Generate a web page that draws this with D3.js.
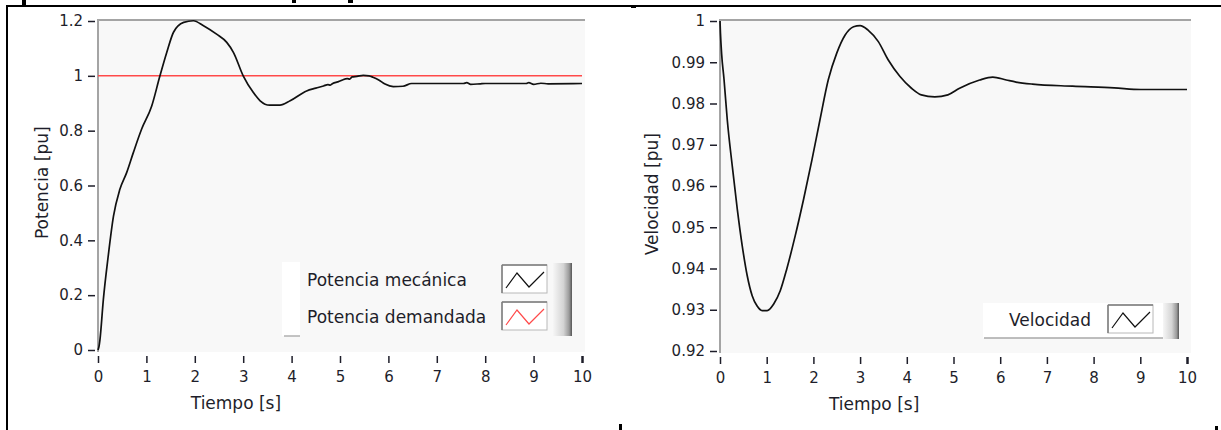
<!DOCTYPE html>
<html>
<head>
<meta charset="utf-8">
<script src="https://cdn.jsdelivr.net/npm/d3@7"></script>
<style>
  body { margin: 0; background: #fff; }
</style>
</head>
<body>
<script>
var ancho = 1221;
var alto = 430;

// valores (tiempo en s, potencia y velocidad en pu)
var tiempoPotencia = [0, 0.02, 0.04, 0.11, 0.21, 0.32, 0.45, 0.59, 0.73, 0.90, 1.11, 1.28, 1.42, 1.56, 1.77, 1.97,
  2.18, 2.45, 2.66, 2.80, 3.0, 3.21, 3.35, 3.55, 3.76, 3.97, 4.31, 4.5, 4.66, 4.75, 4.8, 4.85, 4.95, 5.0, 5.05,
  5.15, 5.2, 5.25, 5.35, 5.48, 5.6, 5.68, 5.8, 5.93, 6.1, 6.3, 6.48, 7.55, 7.62, 7.7, 7.9, 8.0, 8.85, 8.9, 9.0,
  9.15, 9.3, 10];
var potenciaMecanica = [0, 0.012, 0.037, 0.183, 0.341, 0.488, 0.585, 0.646, 0.72, 0.805, 0.89, 1.0, 1.085, 1.159,
  1.195, 1.201, 1.183, 1.152, 1.122, 1.085, 1.0, 0.939, 0.909, 0.893, 0.893, 0.909, 0.945, 0.955, 0.963, 0.968,
  0.966, 0.972, 0.978, 0.981, 0.985, 0.99, 0.988, 0.996, 0.998, 1.002, 1.0, 0.995, 0.985, 0.97, 0.961, 0.962,
  0.972, 0.972, 0.975, 0.969, 0.971, 0.972, 0.972, 0.975, 0.969, 0.973, 0.971, 0.972];
var tiempoDemanda = [0, 10];
var potenciaDemandada = [1, 1];

var tiempoVelocidad = [0, 0.01, 0.035, 0.085, 0.156, 0.263, 0.37, 0.476, 0.582, 0.689, 0.795, 0.902, 1.01, 1.15,
  1.29, 1.43, 1.61, 1.79, 1.97, 2.14, 2.32, 2.50, 2.68, 2.86, 3.0, 3.17, 3.39, 3.60, 3.85, 4.10, 4.31, 4.60, 4.88,
  5.13, 5.56, 5.84, 6.13, 6.34, 6.69, 7.55, 8.44, 9.01, 10];
var velocidad = [1.0, 0.997, 0.992, 0.986, 0.976, 0.9648, 0.9544, 0.9455, 0.9383, 0.9334, 0.9309, 0.9298, 0.9298,
  0.9314, 0.9346, 0.9399, 0.9479, 0.9568, 0.9664, 0.976, 0.9858, 0.9922, 0.9966, 0.9986, 0.9989, 0.9978, 0.995,
  0.9906, 0.9866, 0.9837, 0.9821, 0.9816, 0.9821, 0.9837, 0.9857, 0.9864, 0.9857, 0.9852, 0.9847, 0.9842, 0.9838,
  0.9834, 0.9834];

var ticksTiempo = [0, 1, 2, 3, 4, 5, 6, 7, 8, 9, 10];
var ticksPotencia = [0, 0.2, 0.4, 0.6, 0.8, 1, 1.2];
var ticksVelocidad = [0.92, 0.93, 0.94, 0.95, 0.96, 0.97, 0.98, 0.99, 1];

var nombresPotencia = ["Potencia mecánica", "Potencia demandada"];
var coloresPotencia = ["#111111", "#ff4a4a"];
var nombresVelocidad = ["Velocidad"];

var fuente = "DejaVu Sans, Verdana, sans-serif";
var colorTexto = "#1e1e2a";

var svg = d3.select("body").append("svg").attr("width", ancho).attr("height", alto);

// degradado de la barra gris de la leyenda
var grad = svg.append("defs").append("linearGradient").attr("id", "barra");
grad.append("stop").attr("offset", "0%").attr("stop-color", "#f6f6f6");
grad.append("stop").attr("offset", "55%").attr("stop-color", "#d4d4d4");
grad.append("stop").attr("offset", "85%").attr("stop-color", "#9a9a9a");
grad.append("stop").attr("offset", "100%").attr("stop-color", "#555");

var serie = function(ts, vs) {
  return ts.map(function(t, i) { return {t: t, v: vs[i]}; });
};

var dibujarPanel = function(p) {
  var x = d3.scaleLinear().domain([0, 10]).range([p.x0, p.x1]);
  var y = d3.scaleLinear().domain(p.dominio).range([p.y0, p.y1]);

  // fondo del area de trazado
  svg.append("rect")
    .attr("x", p.x0).attr("y", p.y1 - 1)
    .attr("width", p.x1 - p.x0 + p.extra).attr("height", p.y0 - p.y1 + 3)
    .attr("fill", "#f8f8f8");
  // bordes gris arriba y a la izquierda
  svg.append("path")
    .attr("d", "M" + p.x0 + "," + (p.y0 + 2) + "V" + (p.y1 - 1) + "H" + (p.x1 + p.extra))
    .attr("fill", "none").attr("stroke", "#a4a4a4").attr("stroke-width", 2);

  // eje y
  var ejeY = svg.append("g")
    .attr("transform", "translate(" + (p.x0 - 3) + ",0)")
    .call(d3.axisLeft(y).tickValues(p.ticks).tickSize(7).tickPadding(5).tickFormat(d3.format("~g")));
  ejeY.select(".domain").remove();
  ejeY.attr("font-family", fuente).attr("font-size", 15).style("color", colorTexto);
  ejeY.selectAll("line").attr("stroke-width", 1.5);

  // eje x
  var ejeX = svg.append("g")
    .attr("transform", "translate(0," + (p.y0 + 6) + ")")
    .call(d3.axisBottom(x).tickValues(ticksTiempo).tickSize(7).tickPadding(8));
  ejeX.select(".domain").remove();
  ejeX.attr("font-family", fuente).attr("font-size", 15).style("color", colorTexto);
  ejeX.selectAll("line").attr("stroke-width", 1.5);
  ejeX.selectAll(".tick").filter(function(d) { return d === 10; }).select("line").attr("stroke-width", 2.5);

  // titulos de ejes
  svg.append("text")
    .attr("x", x(p.tituloX)).attr("y", p.y0 + 59)
    .attr("text-anchor", "middle").attr("font-family", fuente).attr("font-size", 17)
    .attr("fill", colorTexto).text("Tiempo [s]");
  svg.append("text")
    .attr("transform", "translate(" + p.tituloYx + "," + y(p.tituloYv) + ") rotate(-90)")
    .attr("text-anchor", "middle").attr("font-family", fuente).attr("font-size", 17)
    .attr("fill", colorTexto).text(p.tituloY);

  // curvas
  var linea = d3.line()
    .x(function(d) { return x(d.t); })
    .y(function(d) { return y(d.v); })
    .curve(p.curva);
  p.series.forEach(function(s) {
    svg.append("path").datum(s.datos)
      .attr("d", linea)
      .attr("fill", "none").attr("stroke", s.color).attr("stroke-width", s.grosor);
  });

  return {x: x, y: y};
};

// muestra de linea de la leyenda
var muestra = function(mx, my, color) {
  svg.append("rect").attr("x", mx).attr("y", my).attr("width", 45).attr("height", 28)
    .attr("fill", "#fff").attr("stroke", "#b8b8b8");
  svg.append("path").attr("d", "M" + mx + "," + my + "h45M" + mx + "," + my + "v28")
    .attr("stroke", "#7c7c7c").attr("stroke-width", 1.5);
  svg.append("path")
    .attr("d", "M" + (mx + 4) + "," + (my + 23) + "L" + (mx + 15) + "," + (my + 8) +
      "L" + (mx + 27) + "," + (my + 22) + "L" + (mx + 42) + "," + (my + 7))
    .attr("fill", "none").attr("stroke", color).attr("stroke-width", 1.2);
};

// ---- panel izquierdo: potencia ----
dibujarPanel({
  x0: 98, x1: 582, y0: 350, y1: 21, extra: 3,
  dominio: [0, 1.2], ticks: ticksPotencia,
  tituloX: 2.85, tituloY: "Potencia  [pu]", tituloYx: 48, tituloYv: 0.61,
  curva: d3.curveMonotoneX,
  series: [
    {datos: serie(tiempoDemanda, potenciaDemandada), color: coloresPotencia[1], grosor: 1.5},
    {datos: serie(tiempoPotencia, potenciaMecanica), color: coloresPotencia[0], grosor: 1.7}
  ]
});

// leyenda izquierda
svg.append("rect").attr("x", 282).attr("y", 262).attr("width", 18).attr("height", 74).attr("fill", "#fff");
svg.append("line").attr("x1", 284).attr("x2", 300).attr("y1", 336).attr("y2", 336)
  .attr("stroke", "#b0b0b0").attr("stroke-width", 1.5);
nombresPotencia.forEach(function(n, i) {
  svg.append("text").attr("x", 307).attr("y", 286 + i * 37)
    .attr("font-family", fuente).attr("font-size", 17).attr("fill", colorTexto).text(n);
  muestra(502, 265 + i * 37, coloresPotencia[i]);
});
svg.append("rect").attr("x", 553).attr("y", 263).attr("width", 19).attr("height", 73).attr("fill", "url(#barra)");

// ---- panel derecho: velocidad ----
dibujarPanel({
  x0: 720, x1: 1187, y0: 351, y1: 21, extra: 4,
  dominio: [0.92, 1], ticks: ticksVelocidad,
  tituloX: 3.3, tituloY: "Velocidad [pu]", tituloYx: 658, tituloYv: 0.958,
  curva: d3.curveMonotoneX,
  series: [
    {datos: serie(tiempoVelocidad, velocidad), color: "#111111", grosor: 1.7}
  ]
});

// leyenda derecha
svg.append("rect").attr("x", 983).attr("y", 303).attr("width", 182).attr("height", 35).attr("fill", "#fff");
svg.append("line").attr("x1", 984).attr("x2", 1165).attr("y1", 338).attr("y2", 338)
  .attr("stroke", "#a8a8a8").attr("stroke-width", 1.5);
nombresVelocidad.forEach(function(n) {
  svg.append("text").attr("x", 1009).attr("y", 326)
    .attr("font-family", fuente).attr("font-size", 17).attr("fill", colorTexto).text(n);
  muestra(1108, 305, "#111111");
});
svg.append("rect").attr("x", 1163).attr("y", 303).attr("width", 16).attr("height", 36).attr("fill", "url(#barra)");

// marco negro exterior
svg.append("path").attr("d", "M7,430V6H1221").attr("fill", "none").attr("stroke", "#000").attr("stroke-width", 2);
svg.append("rect").attr("x", 22).attr("y", 0).attr("width", 4).attr("height", 6).attr("fill", "#000");
svg.append("rect").attr("x", 292).attr("y", 0).attr("width", 4).attr("height", 3).attr("fill", "#000");
svg.append("rect").attr("x", 348).attr("y", 0).attr("width", 5).attr("height", 3).attr("fill", "#000");
svg.append("rect").attr("x", 631).attr("y", 6).attr("width", 5).attr("height", 2).attr("fill", "#000");
svg.append("rect").attr("x", 619).attr("y", 424).attr("width", 3).attr("height", 6).attr("fill", "#000");
svg.append("rect").attr("x", 1215).attr("y", 426).attr("width", 3).attr("height", 4).attr("fill", "#000");
</script>
</body>
</html>
